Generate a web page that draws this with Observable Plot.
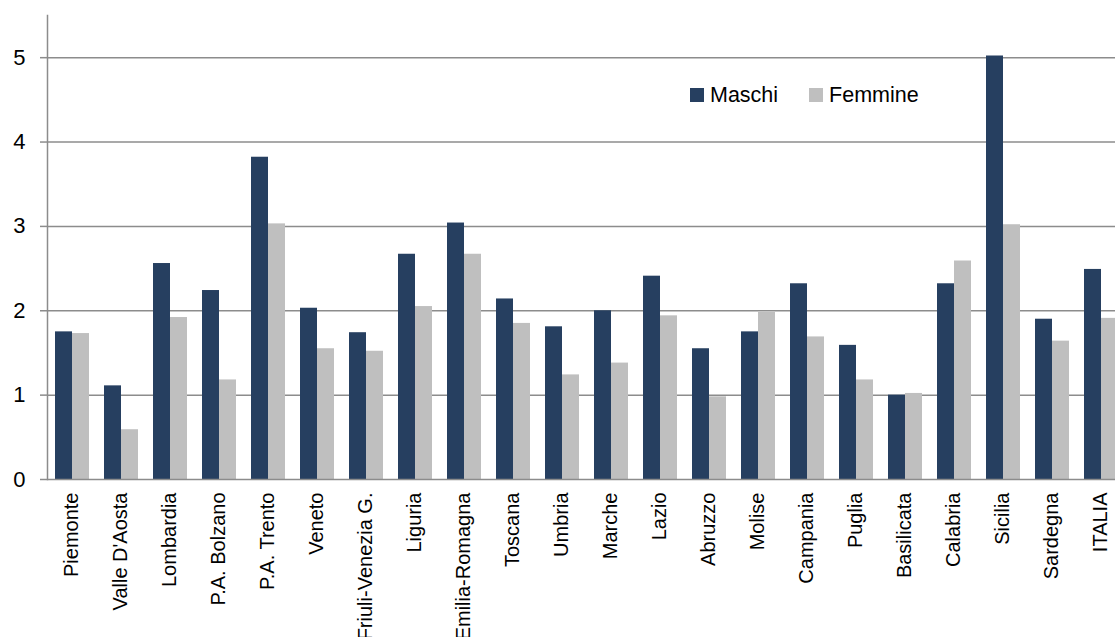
<!DOCTYPE html>
<html>
<head>
<meta charset="utf-8">
<script src="https://cdn.jsdelivr.net/npm/d3@7"></script>
<script src="https://cdn.jsdelivr.net/npm/@observablehq/plot@0.6"></script>
<style>
  html, body { margin: 0; padding: 0; background: #fff; overflow: hidden; }
  #wrap { position: relative; width: 1115px; height: 637px; font-family: "Liberation Sans", Arial, sans-serif; }
  #legend { position: absolute; left: 690px; top: 81px; height: 28px; display: flex; align-items: center; font-size: 21.5px; color: #000; }
  .item { display: flex; align-items: center; margin-right: 31px; }
  .sw { width: 14px; height: 14px; margin-right: 6px; }
</style>
</head>
<body>
<div id="wrap"><div id="legend"></div></div>
<script>
const regions = ["Piemonte","Valle D'Aosta","Lombardia","P.A. Bolzano","P.A. Trento","Veneto","Friuli-Venezia G.","Liguria","Emilia-Romagna","Toscana","Umbria","Marche","Lazio","Abruzzo","Molise","Campania","Puglia","Basilicata","Calabria","Sicilia","Sardegna","ITALIA"];
const maschi  = [1.75,1.11,2.56,2.24,3.82,2.03,1.74,2.67,3.04,2.14,1.81,2.00,2.41,1.55,1.75,2.32,1.59,1.00,2.32,5.02,1.90,2.49];
const femmine = [1.73,0.59,1.92,1.18,3.03,1.55,1.52,2.05,2.67,1.85,1.24,1.38,1.94,0.98,1.98,1.69,1.18,1.02,2.59,3.02,1.64,1.91];
const series = ["Maschi","Femmine"];
const colors = ["#263F60","#BFBFBF"];
const yTicks = [0,1,2,3,4,5];
const gridValues = [1,2,3,4,5];

const data = regions.flatMap((r, i) => [
  {region: r, sex: series[0], value: maschi[i]},
  {region: r, sex: series[1], value: femmine[i]}
]);

const axisGray = "#8c8c8c";

const chart = Plot.plot({
  width: 1115,
  height: 637,
  marginLeft: 44,
  marginRight: -13,
  marginTop: 15,
  marginBottom: 158,
  style: {fontFamily: "'Liberation Sans', Arial, sans-serif", color: "#000", background: "transparent", overflow: "hidden"},
  fx: {domain: regions, padding: 0, label: null},
  x: {domain: series, paddingInner: 0, paddingOuter: 0.4, axis: null},
  y: {domain: [0, 5.5], label: null},
  color: {domain: series, range: colors},
  marks: [
    Plot.ruleY(gridValues, {stroke: axisGray, strokeWidth: 1.5}),
    Plot.barY(data, {fx: "region", x: "sex", y: "value", fill: "sex"}),
    Plot.ruleY([0], {stroke: axisGray, strokeWidth: 1.5}),
    Plot.frame({anchor: "left", facetAnchor: "left", stroke: axisGray, strokeWidth: 1.5}),
    Plot.axisY(yTicks, {anchor: "left", tickSize: 7, tickPadding: 15, fontSize: 22, stroke: axisGray, strokeWidth: 1.5, fill: "#000", label: null, tickFormat: d3.format("d")}),
    Plot.axisFx({anchor: "bottom", tickRotate: -90, tickSize: 0, tickPadding: 13, fontSize: 20, fill: "#000", label: null})
  ]
});

const wrap = document.getElementById("wrap");
wrap.insertBefore(chart, wrap.firstChild);

const legend = document.getElementById("legend");
series.forEach((s, i) => {
  const item = document.createElement("div");
  item.className = "item";
  const sw = document.createElement("div");
  sw.className = "sw";
  sw.style.background = colors[i];
  const t = document.createElement("span");
  t.textContent = s;
  item.appendChild(sw);
  item.appendChild(t);
  legend.appendChild(item);
});
</script>
</body>
</html>
